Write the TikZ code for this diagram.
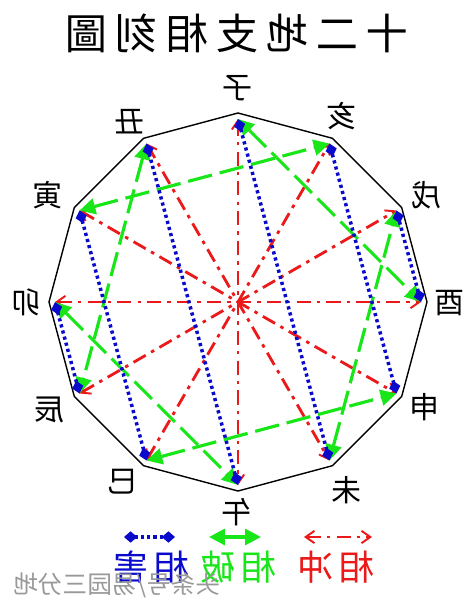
\documentclass[tikz,border=0pt]{standalone}
\usepackage{fontspec}
\newfontfamily\cjk{Noto Sans CJK TC}
\newfontfamily\cjksc{Noto Sans CJK SC}
\usetikzlibrary{arrows.meta,calc}
\definecolor{chongc}{RGB}{235,25,25}
\definecolor{poc}{RGB}{25,230,25}
\definecolor{haic}{RGB}{10,10,205}
\newcommand{\mirtext}[1]{\scalebox{-1}[1]{#1}}
\newcommand{\tgap}{\hspace{4.5pt}}
\tikzset{
  chongtip/.tip={Straight Barb[length=5pt,width=7pt,line width=1.1pt]},
  potip/.tip={Triangle[length=9pt,width=9pt]},
  haitip/.tip={Diamond[length=7.5pt,width=6.5pt]},
  polyline/.style={draw=black,line width=0.8pt,line join=miter},
  chongline/.style={draw=chongc,line width=1.6pt,dash pattern=on 8pt off 3.5pt on 2pt off 3.5pt,arrows={chongtip-chongtip}},
  poline/.style={draw=poc,line width=1.8pt,dash pattern=on 14pt off 4.5pt,arrows={potip-potip}},
  hailine/.style={draw=haic,line width=2pt,dash pattern=on 1.8pt off 1.8pt,arrows={haitip-haitip}},
  branch/.style={font=\cjk\fontsize{17}{17}\selectfont,inner sep=0pt},
  titletext/.style={font=\cjk\fontsize{24}{24}\selectfont,inner sep=0pt},
  legtext/.style={font=\cjk\fontsize{20}{20}\selectfont,inner sep=0pt},
  marktext/.style={font=\cjksc\fontsize{14}{14}\selectfont,inner sep=0pt,text=black!40},
}
\begin{document}
\begin{tikzpicture}[x=0.02cm,y=-0.02cm]
\useasboundingbox[fill=white] (0,0) rectangle (474,606);
% title
\node[titletext] (title) at (237,33) {\mirtext{十\tgap 二\tgap 地\tgap 支\tgap 相\tgap 刻\tgap 圖}};
\begin{scope}[shift={(238,302)}]
  \draw[polyline] (0:189) \foreach \a in {30,60,...,330}{ -- (\a:189)} -- cycle;
  \def\r{183}
  \coordinate (zi)   at ({\r*cos(90)},{-\r*sin(90)});
  \coordinate (hai)  at ({\r*cos(60)},{-\r*sin(60)});
  \coordinate (xu)   at ({\r*cos(30)},{-\r*sin(30)});
  \coordinate (you)  at ({\r*cos(0)},{-\r*sin(0)});
  \coordinate (shen) at ({\r*cos(-30)},{-\r*sin(-30)});
  \coordinate (wei)  at ({\r*cos(-60)},{-\r*sin(-60)});
  \coordinate (wu)   at ({\r*cos(-90)},{-\r*sin(-90)});
  \coordinate (si)   at ({\r*cos(-120)},{-\r*sin(-120)});
  \coordinate (chen) at ({\r*cos(-150)},{-\r*sin(-150)});
  \coordinate (mao)  at ({\r*cos(180)},{-\r*sin(180)});
  \coordinate (yin)  at ({\r*cos(150)},{-\r*sin(150)});
  \coordinate (chou) at ({\r*cos(120)},{-\r*sin(120)});
\end{scope}
% chong (red)
\draw[chongline] (zi) -- (wu);
\draw[chongline] (chou) -- (wei);
\draw[chongline] (yin) -- (shen);
\draw[chongline] (mao) -- (you);
\draw[chongline] (chen) -- (xu);
\draw[chongline] (si) -- (hai);
% po (green)
\draw[poline] (zi) -- (you);
\draw[poline] (chou) -- (chen);
\draw[poline] (yin) -- (hai);
\draw[poline] (mao) -- (wu);
\draw[poline] (si) -- (shen);
\draw[poline] (wei) -- (xu);
% hai (blue)
\draw[hailine] (zi) -- (wei);
\draw[hailine] (chou) -- (wu);
\draw[hailine] (yin) -- (si);
\draw[hailine] (mao) -- (chen);
\draw[hailine] (shen) -- (hai);
\draw[hailine] (you) -- (xu);
% branch labels
\node[branch] (lzi)   at (238,88)  {\mirtext{子}};
\node[branch] (lhai)  at (342,116) {\mirtext{亥}};
\node[branch] (lxu)   at (427,195) {\mirtext{戌}};
\node[branch] (lyou)  at (450,303) {\mirtext{酉}};
\node[branch] (lshen) at (425,407) {\mirtext{申}};
\node[branch] (lwei)  at (347,490) {\mirtext{未}};
\node[branch] (lwu)   at (237,512) {\mirtext{午}};
\node[branch] (lsi)   at (123,482) {\mirtext{巳}};
\node[branch] (lchen) at (50,410)  {\mirtext{辰}};
\node[branch] (lmao)  at (27,302)  {\mirtext{卯}};
\node[branch] (lyin)  at (48,195)  {\mirtext{寅}};
\node[branch] (lchou) at (130,122) {\mirtext{丑}};
% legend
\coordinate (ra) at (304,537); \coordinate (rb) at (372,537);
\coordinate (ga) at (209,537); \coordinate (gb) at (261,537);
\coordinate (ba) at (124,537); \coordinate (bb) at (175,537);
\draw[chongline] (ra) -- (rb);
\draw[poline,solid] (ga) -- (gb);
\draw[hailine] (ba) -- (bb);
\node[legtext,text=chongc] (tchong) at (336,567) {\mirtext{相\,冲}};
\node[legtext,text=poc] (tpo) at (238,567) {\mirtext{相\,破}};
\node[legtext,text=haic] (thai) at (151,567) {\mirtext{相\,害}};
\node[marktext] (mark) at (117,585) {\mirtext{头条号/易园三分地}};
\end{tikzpicture}
\end{document}
